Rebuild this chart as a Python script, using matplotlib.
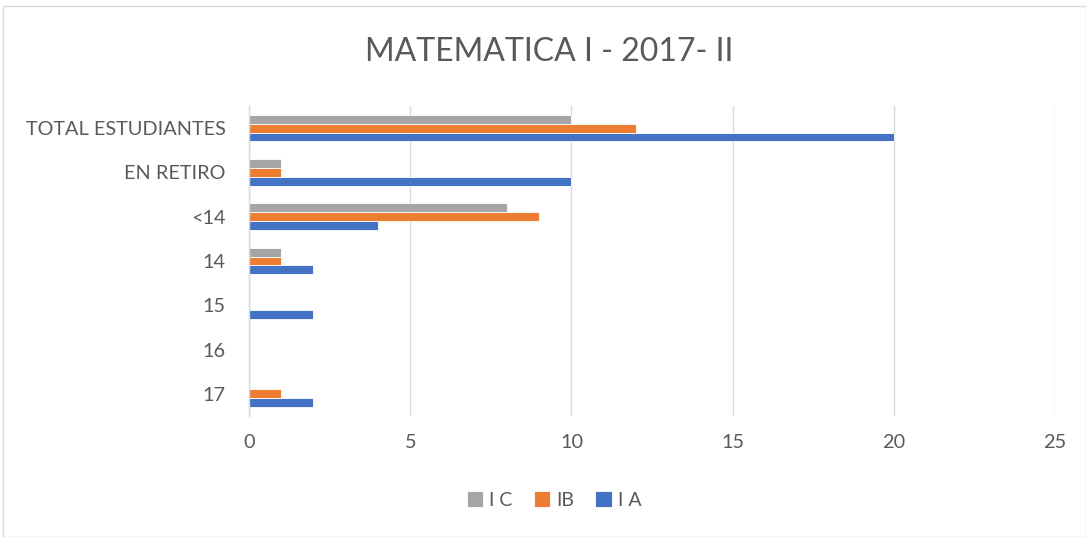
import numpy as np
import matplotlib.pyplot as plt
from matplotlib.patches import Rectangle

categories = ["TOTAL ESTUDIANTES", "EN RETIRO", "<14", "14", "15", "16", "17"]
ia = [20, 10, 4, 2, 2, 0, 2]
ib = [12, 1, 9, 1, 0, 0, 1]
ic = [10, 1, 8, 1, 0, 0, 0]
xticks = [0, 5, 10, 15, 20, 25]

plt.rcParams['font.family'] = ['Lato', 'DejaVu Sans']
txt = '#595959'

fig = plt.figure(figsize=(10.86, 5.37), dpi=100)
ax = fig.add_axes([249/1086, 1 - 416/537, (1055-249)/1086, (416-106)/537])

y = np.arange(len(categories))
h = 0.2
ax.barh(y + h, ia, height=h, color='#4472C4', edgecolor='white', linewidth=0.6, label='I A')
ax.barh(y, ib, height=h, color='#ED7D31', edgecolor='white', linewidth=0.6, label='IB')
ax.barh(y - h, ic, height=h, color='#A5A5A5', edgecolor='white', linewidth=0.6, label='I C')

ax.set_ylim(len(categories) - 0.5, -0.5)
ax.set_xlim(0, 25)
ax.set_xticks(xticks)
ax.set_yticks(y)
ax.set_yticklabels(categories)
ax.tick_params(axis='both', length=0, labelsize=14.3, colors=txt)
ax.tick_params(axis='x', pad=13)
ax.tick_params(axis='y', pad=17)
ax.grid(axis='x', color='#D9D9D9', linewidth=1)
ax.set_axisbelow(True)
for s in ['top', 'right', 'bottom']:
    ax.spines[s].set_visible(False)
ax.spines['left'].set_color('#D9D9D9')
ax.spines['left'].set_linewidth(1)

fig.text(0.506, 1 - 52/537, "MATEMATICA I - 2017- II", ha='center', va='center',
         fontsize=23, color=txt)

handles, labels = ax.get_legend_handles_labels()
leg = fig.legend(handles[::-1], labels[::-1], loc='center', bbox_to_anchor=(0.51, 1 - 500/537),
                 ncol=3, frameon=False, fontsize=14, handlelength=0.85, handleheight=0.85,
                 handletextpad=0.3, columnspacing=1.1, labelcolor=txt)

fig.patches.append(Rectangle((3/1086, 0), 1 - 3/1086, 1 - 6/537, transform=fig.transFigure,
                             fill=False, edgecolor='#D9D9D9', linewidth=1))

fig.savefig("out.png", dpi=100)
